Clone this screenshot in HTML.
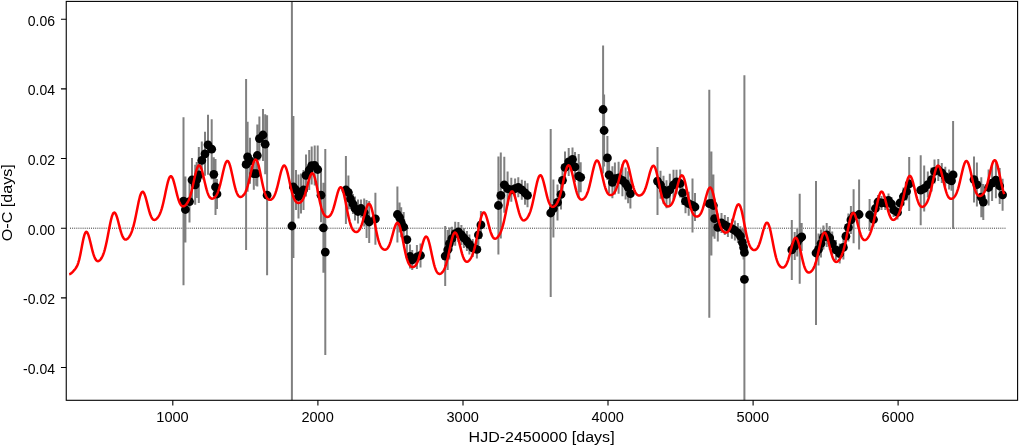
<!DOCTYPE html>
<html><head><meta charset="utf-8"><style>html,body{margin:0;padding:0;background:#fff;overflow:hidden}svg{display:block;will-change:transform}</style></head>
<body><svg width="1019" height="445" viewBox="0 0 1019 445">
<rect width="1019" height="445" fill="#fff"/>
<g>
<line x1="70" y1="228.2" x2="1005.5" y2="228.2" stroke="#000" stroke-width="0.8" stroke-dasharray="1 1.1"/>
<path d="M183.5,117.2V285.2M185.4,176.5V242.5M189.5,180.6V222.6M192.0,158.0V202.0M195.2,164.8V204.8M196.7,162.0V198.0M198.8,147.0V203.0M201.8,141.4V179.4M205.0,131.8V175.8M208.0,114.8V174.8M211.7,119.2V179.2M213.8,157.3V191.3M215.5,159.0V215.0M217.0,179.0V209.0M246.1,78.9V249.9M247.6,121.8V191.8M250.0,137.8V183.8M253.8,157.7V189.7M256.2,161.7V185.7M257.3,124.5V186.5M259.4,116.6V160.6M263.0,109.0V161.0M265.2,114.2V174.2M267.1,115.2V275.2M291.9,1.4V400.3M293.4,116.0V258.0M296.0,170.0V210.0M298.5,174.5V218.5M301.0,173.5V213.5M303.5,170.0V210.0M306.0,154.4V196.4M309.2,150.0V190.0M311.7,146.6V184.6M314.7,145.5V185.5M317.7,145.5V193.5M321.0,168.2V222.2M323.4,182.8V272.8M325.3,149.1V355.1M345.9,156.0V224.0M348.4,175.5V209.5M350.5,189.0V209.0M353.0,194.0V214.0M355.0,196.5V220.5M358.0,199.5V223.5M361.0,199.5V217.5M364.2,198.5V226.5M366.6,200.0V238.0M369.2,201.0V243.0M375.4,192.8V244.8M397.4,186.5V242.5M399.6,202.6V232.6M401.2,207.3V237.3M403.7,212.0V242.0M406.9,225.6V253.6M410.0,244.5V268.5M412.2,250.0V270.0M416.9,245.0V269.0M420.5,243.5V267.5M445.2,226.1V286.1M447.7,229.9V269.9M449.4,227.6V259.6M451.9,226.7V250.7M455.2,221.7V245.7M458.4,221.9V241.9M461.4,224.9V244.9M463.9,227.9V247.9M466.9,231.1V251.1M469.4,234.4V254.4M472.7,238.9V256.9M476.9,240.4V258.4M478.4,224.9V244.9M480.9,210.9V238.9M498.4,156.5V254.5M500.8,152.4V238.4M504.3,156.8V212.8M507.6,171.6V205.6M511.3,177.8V201.8M515.1,178.6V198.6M518.3,177.3V197.3M521.8,179.8V199.8M525.0,180.8V204.8M527.5,183.3V207.3M550.7,129.0V297.0M553.4,179.6V237.6M557.5,184.4V220.4M561.0,179.4V209.4M562.5,165.3V195.3M565.0,151.4V183.4M568.7,147.9V175.9M572.5,147.4V171.4M575.0,151.9V181.9M578.7,154.1V198.1M580.7,162.3V192.3M603.1,45.5V173.5M604.1,94.5V166.5M607.4,135.9V179.9M609.1,156.9V192.9M612.4,166.3V198.3M614.9,162.6V194.6M618.6,161.8V193.8M622.4,164.3V196.3M625.6,167.6V199.6M628.1,171.3V203.3M630.4,178.6V208.6M657.5,147.1V215.1M660.5,170.8V198.8M663.5,175.8V203.8M666.5,180.3V208.3M669.8,173.8V205.8M673.5,169.8V199.8M676.5,169.8V193.8M680.2,169.5V197.5M682.5,181.0V205.0M685.5,189.2V213.2M688.7,191.7V215.7M692.5,178.5V232.5M695.0,193.0V221.0M709.3,89.7V317.7M711.4,151.5V255.5M713.4,174.5V236.5M714.6,198.7V238.7M717.8,213.4V241.4M721.5,213.0V233.0M724.8,215.0V235.0M727.9,216.9V236.9M731.9,218.7V238.7M734.9,220.5V240.5M737.9,223.0V243.0M740.4,226.2V246.2M742.4,228.4V256.4M743.6,235.4V259.4M744.4,240.4V264.4M744.4,75.3V400.3M791.8,219.9V279.9M794.7,232.1V260.1M797.2,228.4V256.4M799.7,193.7V283.7M801.7,222.9V250.9M816.0,181.0V325.0M818.5,233.4V265.4M821.0,229.6V257.6M823.4,225.4V249.4M826.7,222.9V246.9M829.7,225.9V249.9M832.2,231.6V255.6M835.9,239.9V259.9M839.7,243.6V263.6M843.4,235.4V259.4M845.9,224.2V248.2M848.4,213.4V241.4M850.9,205.9V233.9M853.6,189.2V243.2M859.1,179.5V249.5M869.6,199.0V231.0M873.5,212.5V226.5M875.4,201.5V215.5M878.0,195.0V209.0M881.5,196.0V210.0M885.3,196.0V210.0M888.5,193.5V207.5M891.5,197.0V211.0M893.6,203.0V217.0M897.5,205.5V219.5M900.0,195.0V211.0M903.5,187.5V205.5M906.6,182.5V200.5M909.2,157.0V211.0M920.7,155.2V225.2M924.2,165.4V211.4M927.8,171.6V197.6M931.6,167.6V191.6M934.5,159.4V183.4M938.3,159.0V181.0M941.8,162.9V182.9M945.3,166.7V186.7M949.1,169.6V189.6M951.5,170.8V190.8M953.1,120.9V228.9M974.0,156.6V202.6M976.9,162.6V206.6M981.3,177.2V217.2M983.3,184.1V220.1M988.6,169.5V205.5M992.1,165.1V201.1M995.9,162.2V198.2M999.7,168.0V204.0M1002.6,178.8V210.8" stroke="#808080" stroke-width="2" fill="none"/>
<g fill="#000"><circle cx="183.5" cy="201.2" r="4.4"/><circle cx="185.4" cy="209.5" r="4.4"/><circle cx="189.5" cy="201.6" r="4.4"/><circle cx="192.0" cy="180.0" r="4.4"/><circle cx="195.2" cy="184.8" r="4.4"/><circle cx="196.7" cy="180.0" r="4.4"/><circle cx="198.8" cy="175.0" r="4.4"/><circle cx="201.8" cy="160.4" r="4.4"/><circle cx="205.0" cy="153.8" r="4.4"/><circle cx="208.0" cy="144.8" r="4.4"/><circle cx="211.7" cy="149.2" r="4.4"/><circle cx="213.8" cy="174.3" r="4.4"/><circle cx="215.5" cy="187.0" r="4.4"/><circle cx="217.0" cy="194.0" r="4.4"/><circle cx="246.1" cy="164.4" r="4.4"/><circle cx="247.6" cy="156.8" r="4.4"/><circle cx="250.0" cy="160.8" r="4.4"/><circle cx="253.8" cy="173.7" r="4.4"/><circle cx="256.2" cy="173.7" r="4.4"/><circle cx="257.3" cy="155.5" r="4.4"/><circle cx="259.4" cy="138.6" r="4.4"/><circle cx="263.0" cy="135.0" r="4.4"/><circle cx="265.2" cy="144.2" r="4.4"/><circle cx="267.1" cy="195.2" r="4.4"/><circle cx="291.9" cy="226.0" r="4.4"/><circle cx="293.4" cy="187.0" r="4.4"/><circle cx="296.0" cy="190.0" r="4.4"/><circle cx="298.5" cy="196.5" r="4.4"/><circle cx="301.0" cy="193.5" r="4.4"/><circle cx="303.5" cy="190.0" r="4.4"/><circle cx="306.0" cy="175.4" r="4.4"/><circle cx="309.2" cy="170.0" r="4.4"/><circle cx="311.7" cy="165.6" r="4.4"/><circle cx="314.7" cy="165.5" r="4.4"/><circle cx="317.7" cy="169.5" r="4.4"/><circle cx="321.0" cy="195.2" r="4.4"/><circle cx="323.4" cy="227.8" r="4.4"/><circle cx="325.3" cy="252.1" r="4.4"/><circle cx="345.9" cy="190.0" r="4.4"/><circle cx="348.4" cy="192.5" r="4.4"/><circle cx="350.5" cy="199.0" r="4.4"/><circle cx="353.0" cy="204.0" r="4.4"/><circle cx="355.0" cy="208.5" r="4.4"/><circle cx="358.0" cy="211.5" r="4.4"/><circle cx="361.0" cy="208.5" r="4.4"/><circle cx="364.2" cy="212.5" r="4.4"/><circle cx="366.6" cy="219.0" r="4.4"/><circle cx="369.2" cy="222.0" r="4.4"/><circle cx="375.4" cy="218.8" r="4.4"/><circle cx="397.4" cy="214.5" r="4.4"/><circle cx="399.6" cy="217.6" r="4.4"/><circle cx="401.2" cy="222.3" r="4.4"/><circle cx="403.7" cy="227.0" r="4.4"/><circle cx="406.9" cy="239.6" r="4.4"/><circle cx="410.0" cy="256.5" r="4.4"/><circle cx="412.2" cy="260.0" r="4.4"/><circle cx="416.9" cy="257.0" r="4.4"/><circle cx="420.5" cy="255.5" r="4.4"/><circle cx="445.2" cy="256.1" r="4.4"/><circle cx="447.7" cy="249.9" r="4.4"/><circle cx="449.4" cy="243.6" r="4.4"/><circle cx="451.9" cy="238.7" r="4.4"/><circle cx="455.2" cy="233.7" r="4.4"/><circle cx="458.4" cy="231.9" r="4.4"/><circle cx="461.4" cy="234.9" r="4.4"/><circle cx="463.9" cy="237.9" r="4.4"/><circle cx="466.9" cy="241.1" r="4.4"/><circle cx="469.4" cy="244.4" r="4.4"/><circle cx="472.7" cy="247.9" r="4.4"/><circle cx="476.9" cy="249.4" r="4.4"/><circle cx="478.4" cy="234.9" r="4.4"/><circle cx="480.9" cy="224.9" r="4.4"/><circle cx="498.4" cy="205.5" r="4.4"/><circle cx="500.8" cy="195.4" r="4.4"/><circle cx="504.3" cy="184.8" r="4.4"/><circle cx="507.6" cy="188.6" r="4.4"/><circle cx="511.3" cy="189.8" r="4.4"/><circle cx="515.1" cy="188.6" r="4.4"/><circle cx="518.3" cy="187.3" r="4.4"/><circle cx="521.8" cy="189.8" r="4.4"/><circle cx="525.0" cy="192.8" r="4.4"/><circle cx="527.5" cy="195.3" r="4.4"/><circle cx="550.7" cy="213.0" r="4.4"/><circle cx="553.4" cy="208.6" r="4.4"/><circle cx="557.5" cy="202.4" r="4.4"/><circle cx="561.0" cy="194.4" r="4.4"/><circle cx="562.5" cy="180.3" r="4.4"/><circle cx="565.0" cy="167.4" r="4.4"/><circle cx="568.7" cy="161.9" r="4.4"/><circle cx="572.5" cy="159.4" r="4.4"/><circle cx="575.0" cy="166.9" r="4.4"/><circle cx="578.7" cy="176.1" r="4.4"/><circle cx="580.7" cy="177.3" r="4.4"/><circle cx="603.1" cy="109.5" r="4.4"/><circle cx="604.1" cy="130.5" r="4.4"/><circle cx="607.4" cy="157.9" r="4.4"/><circle cx="609.1" cy="174.9" r="4.4"/><circle cx="612.4" cy="182.3" r="4.4"/><circle cx="614.9" cy="178.6" r="4.4"/><circle cx="618.6" cy="177.8" r="4.4"/><circle cx="622.4" cy="180.3" r="4.4"/><circle cx="625.6" cy="183.6" r="4.4"/><circle cx="628.1" cy="187.3" r="4.4"/><circle cx="630.4" cy="193.6" r="4.4"/><circle cx="657.5" cy="181.1" r="4.4"/><circle cx="660.5" cy="184.8" r="4.4"/><circle cx="663.5" cy="189.8" r="4.4"/><circle cx="666.5" cy="194.3" r="4.4"/><circle cx="669.8" cy="189.8" r="4.4"/><circle cx="673.5" cy="184.8" r="4.4"/><circle cx="676.5" cy="181.8" r="4.4"/><circle cx="680.2" cy="183.5" r="4.4"/><circle cx="682.5" cy="193.0" r="4.4"/><circle cx="685.5" cy="201.2" r="4.4"/><circle cx="688.7" cy="203.7" r="4.4"/><circle cx="692.5" cy="205.5" r="4.4"/><circle cx="695.0" cy="207.0" r="4.4"/><circle cx="709.3" cy="203.7" r="4.4"/><circle cx="711.4" cy="203.5" r="4.4"/><circle cx="713.4" cy="205.5" r="4.4"/><circle cx="714.6" cy="218.7" r="4.4"/><circle cx="717.8" cy="227.4" r="4.4"/><circle cx="721.5" cy="223.0" r="4.4"/><circle cx="724.8" cy="225.0" r="4.4"/><circle cx="727.9" cy="226.9" r="4.4"/><circle cx="731.9" cy="228.7" r="4.4"/><circle cx="734.9" cy="230.5" r="4.4"/><circle cx="737.9" cy="233.0" r="4.4"/><circle cx="740.4" cy="236.2" r="4.4"/><circle cx="742.4" cy="242.4" r="4.4"/><circle cx="743.6" cy="247.4" r="4.4"/><circle cx="744.4" cy="252.4" r="4.4"/><circle cx="744.4" cy="279.3" r="4.4"/><circle cx="791.8" cy="249.9" r="4.4"/><circle cx="794.7" cy="246.1" r="4.4"/><circle cx="797.2" cy="242.4" r="4.4"/><circle cx="799.7" cy="238.7" r="4.4"/><circle cx="801.7" cy="236.9" r="4.4"/><circle cx="816.0" cy="253.0" r="4.4"/><circle cx="818.5" cy="249.4" r="4.4"/><circle cx="821.0" cy="243.6" r="4.4"/><circle cx="823.4" cy="237.4" r="4.4"/><circle cx="826.7" cy="234.9" r="4.4"/><circle cx="829.7" cy="237.9" r="4.4"/><circle cx="832.2" cy="243.6" r="4.4"/><circle cx="835.9" cy="249.9" r="4.4"/><circle cx="839.7" cy="253.6" r="4.4"/><circle cx="843.4" cy="247.4" r="4.4"/><circle cx="845.9" cy="236.2" r="4.4"/><circle cx="848.4" cy="227.4" r="4.4"/><circle cx="850.9" cy="219.9" r="4.4"/><circle cx="853.6" cy="216.2" r="4.4"/><circle cx="859.1" cy="214.5" r="4.4"/><circle cx="869.6" cy="215.0" r="4.4"/><circle cx="873.5" cy="219.5" r="4.4"/><circle cx="875.4" cy="208.5" r="4.4"/><circle cx="878.0" cy="202.0" r="4.4"/><circle cx="881.5" cy="203.0" r="4.4"/><circle cx="885.3" cy="203.0" r="4.4"/><circle cx="888.5" cy="200.5" r="4.4"/><circle cx="891.5" cy="204.0" r="4.4"/><circle cx="893.6" cy="210.0" r="4.4"/><circle cx="897.5" cy="212.5" r="4.4"/><circle cx="900.0" cy="203.0" r="4.4"/><circle cx="903.5" cy="196.5" r="4.4"/><circle cx="906.6" cy="191.5" r="4.4"/><circle cx="909.2" cy="184.0" r="4.4"/><circle cx="920.7" cy="190.2" r="4.4"/><circle cx="924.2" cy="188.4" r="4.4"/><circle cx="927.8" cy="184.6" r="4.4"/><circle cx="931.6" cy="179.6" r="4.4"/><circle cx="934.5" cy="171.4" r="4.4"/><circle cx="938.3" cy="170.0" r="4.4"/><circle cx="941.8" cy="172.9" r="4.4"/><circle cx="945.3" cy="176.7" r="4.4"/><circle cx="949.1" cy="179.6" r="4.4"/><circle cx="951.5" cy="180.8" r="4.4"/><circle cx="953.1" cy="174.9" r="4.4"/><circle cx="974.0" cy="179.6" r="4.4"/><circle cx="976.9" cy="184.6" r="4.4"/><circle cx="981.3" cy="197.2" r="4.4"/><circle cx="983.3" cy="202.1" r="4.4"/><circle cx="988.6" cy="187.5" r="4.4"/><circle cx="992.1" cy="183.1" r="4.4"/><circle cx="995.9" cy="180.2" r="4.4"/><circle cx="999.7" cy="186.0" r="4.4"/><circle cx="1002.6" cy="194.8" r="4.4"/></g>
<path d="M69.2,274.34 L69.7,274.20 L70.2,273.96 L70.7,273.63 L71.2,273.24 L71.7,272.80 L72.2,272.32 L72.7,271.81 L73.2,271.28 L73.7,270.73 L74.2,270.16 L74.7,269.57 L75.2,268.95 L75.7,268.29 L76.2,267.55 L76.7,266.69 L77.2,265.67 L77.7,264.48 L78.2,263.08 L78.7,261.47 L79.2,259.63 L79.7,257.55 L80.2,255.25 L80.7,252.75 L81.2,250.13 L81.7,247.45 L82.2,244.78 L82.7,242.21 L83.2,239.80 L83.7,237.61 L84.2,235.71 L84.7,234.14 L85.2,232.95 L85.7,232.18 L86.2,231.84 L86.7,231.93 L87.2,232.41 L87.7,233.26 L88.2,234.44 L88.7,235.89 L89.2,237.58 L89.7,239.45 L90.2,241.45 L90.7,243.52 L91.2,245.62 L91.7,247.69 L92.2,249.70 L92.7,251.60 L93.2,253.37 L93.7,254.98 L94.2,256.41 L94.7,257.66 L95.2,258.71 L95.7,259.57 L96.2,260.23 L96.7,260.71 L97.2,261.02 L97.7,261.17 L98.2,261.16 L98.7,261.01 L99.2,260.75 L99.7,260.36 L100.2,259.87 L100.7,259.27 L101.2,258.55 L101.7,257.73 L102.2,256.78 L102.7,255.70 L103.2,254.47 L103.7,253.10 L104.2,251.56 L104.7,249.86 L105.2,247.99 L105.7,245.95 L106.2,243.76 L106.7,241.42 L107.2,238.96 L107.7,236.41 L108.2,233.79 L108.7,231.14 L109.2,228.52 L109.7,225.95 L110.2,223.48 L110.7,221.18 L111.2,219.07 L111.7,217.20 L112.2,215.61 L112.7,214.33 L113.2,213.38 L113.7,212.78 L114.2,212.55 L114.7,212.67 L115.2,213.14 L115.7,213.93 L116.2,215.01 L116.7,216.36 L117.2,217.92 L117.7,219.66 L118.2,221.52 L118.7,223.45 L119.2,225.42 L119.7,227.37 L120.2,229.25 L120.7,231.04 L121.2,232.70 L121.7,234.20 L122.2,235.53 L122.7,236.67 L123.2,237.62 L123.7,238.37 L124.2,238.94 L124.7,239.32 L125.2,239.54 L125.7,239.60 L126.2,239.52 L126.7,239.31 L127.2,239.00 L127.7,238.58 L128.2,238.06 L128.7,237.46 L129.2,236.77 L129.7,235.98 L130.2,235.10 L130.7,234.11 L131.2,233.00 L131.7,231.76 L132.2,230.37 L132.7,228.84 L133.2,227.16 L133.7,225.31 L134.2,223.31 L134.7,221.17 L135.2,218.89 L135.7,216.49 L136.2,214.01 L136.7,211.48 L137.2,208.93 L137.7,206.41 L138.2,203.95 L138.7,201.61 L139.2,199.43 L139.7,197.45 L140.2,195.72 L140.7,194.27 L141.2,193.13 L141.7,192.32 L142.2,191.86 L142.7,191.75 L143.2,191.99 L143.7,192.56 L144.2,193.45 L144.7,194.63 L145.2,196.06 L145.7,197.69 L146.2,199.49 L146.7,201.40 L147.2,203.38 L147.7,205.38 L148.2,207.36 L148.7,209.27 L149.2,211.08 L149.7,212.75 L150.2,214.27 L150.7,215.61 L151.2,216.77 L151.7,217.73 L152.2,218.51 L152.7,219.10 L153.2,219.52 L153.7,219.78 L154.2,219.90 L154.7,219.88 L155.2,219.74 L155.7,219.50 L156.2,219.16 L156.7,218.73 L157.2,218.22 L157.7,217.63 L158.2,216.94 L158.7,216.16 L159.2,215.27 L159.7,214.26 L160.2,213.13 L160.7,211.85 L161.2,210.43 L161.7,208.85 L162.2,207.11 L162.7,205.22 L163.2,203.19 L163.7,201.03 L164.2,198.76 L164.7,196.40 L165.2,194.00 L165.7,191.59 L166.2,189.21 L166.7,186.91 L167.2,184.72 L167.7,182.70 L168.2,180.90 L168.7,179.33 L169.2,178.06 L169.7,177.09 L170.2,176.46 L170.7,176.17 L171.2,176.23 L171.7,176.64 L172.2,177.37 L172.7,178.42 L173.2,179.73 L173.7,181.29 L174.2,183.05 L174.7,184.96 L175.2,186.97 L175.7,189.04 L176.2,191.12 L176.7,193.17 L177.2,195.14 L177.7,197.00 L178.2,198.73 L178.7,200.29 L179.2,201.67 L179.7,202.87 L180.2,203.88 L180.7,204.70 L181.2,205.33 L181.7,205.80 L182.2,206.10 L182.7,206.27 L183.2,206.30 L183.7,206.22 L184.2,206.03 L184.7,205.76 L185.2,205.39 L185.7,204.95 L186.2,204.41 L186.7,203.79 L187.2,203.07 L187.7,202.25 L188.2,201.30 L188.7,200.23 L189.2,199.01 L189.7,197.65 L190.2,196.13 L190.7,194.45 L191.2,192.63 L191.7,190.66 L192.2,188.57 L192.7,186.37 L193.2,184.10 L193.7,181.79 L194.2,179.47 L194.7,177.19 L195.2,175.00 L195.7,172.93 L196.2,171.04 L196.7,169.36 L197.2,167.94 L197.7,166.81 L198.2,165.99 L198.7,165.51 L199.2,165.38 L199.7,165.60 L200.2,166.16 L200.7,167.05 L201.2,168.25 L201.7,169.72 L202.2,171.42 L202.7,173.32 L203.2,175.37 L203.7,177.51 L204.2,179.71 L204.7,181.91 L205.2,184.07 L205.7,186.15 L206.2,188.12 L206.7,189.95 L207.2,191.62 L207.7,193.11 L208.2,194.41 L208.7,195.52 L209.2,196.45 L209.7,197.19 L210.2,197.77 L210.7,198.20 L211.2,198.48 L211.7,198.64 L212.2,198.68 L212.7,198.63 L213.2,198.48 L213.7,198.24 L214.2,197.92 L214.7,197.50 L215.2,196.99 L215.7,196.38 L216.2,195.65 L216.7,194.79 L217.2,193.79 L217.7,192.65 L218.2,191.35 L218.7,189.89 L219.2,188.28 L219.7,186.51 L220.2,184.60 L220.7,182.56 L221.2,180.42 L221.7,178.21 L222.2,175.97 L222.7,173.73 L223.2,171.54 L223.7,169.44 L224.2,167.48 L224.7,165.70 L225.2,164.15 L225.7,162.86 L226.2,161.88 L226.7,161.22 L227.2,160.91 L227.7,160.95 L228.2,161.35 L228.7,162.10 L229.2,163.18 L229.7,164.57 L230.2,166.23 L230.7,168.12 L231.2,170.20 L231.7,172.41 L232.2,174.72 L232.7,177.07 L233.2,179.42 L233.7,181.71 L234.2,183.92 L234.7,186.00 L235.2,187.93 L235.7,189.69 L236.2,191.25 L236.7,192.62 L237.2,193.78 L237.7,194.74 L238.2,195.51 L238.7,196.10 L239.2,196.52 L239.7,196.79 L240.2,196.92 L240.7,196.94 L241.2,196.84 L241.7,196.64 L242.2,196.35 L242.7,195.97 L243.2,195.49 L243.7,194.92 L244.2,194.25 L244.7,193.46 L245.2,192.55 L245.7,191.50 L246.2,190.31 L246.7,188.97 L247.2,187.48 L247.7,185.83 L248.2,184.03 L248.7,182.11 L249.2,180.07 L249.7,177.93 L250.2,175.74 L250.7,173.53 L251.2,171.33 L251.7,169.20 L252.2,167.17 L252.7,165.30 L253.2,163.62 L253.7,162.19 L254.2,161.04 L254.7,160.20 L255.2,159.70 L255.7,159.55 L256.2,159.77 L256.7,160.34 L257.2,161.26 L257.7,162.52 L258.2,164.07 L258.7,165.89 L259.2,167.94 L259.7,170.17 L260.2,172.54 L260.7,174.99 L261.2,177.49 L261.7,179.97 L262.2,182.40 L262.7,184.74 L263.2,186.95 L263.7,189.01 L264.2,190.90 L264.7,192.60 L265.2,194.10 L265.7,195.41 L266.2,196.52 L266.7,197.45 L267.2,198.21 L267.7,198.80 L268.2,199.25 L268.7,199.56 L269.2,199.75 L269.7,199.84 L270.2,199.83 L270.7,199.72 L271.2,199.52 L271.7,199.23 L272.2,198.84 L272.7,198.33 L273.2,197.71 L273.7,196.95 L274.2,196.06 L274.7,195.01 L275.2,193.80 L275.7,192.44 L276.2,190.91 L276.7,189.23 L277.2,187.40 L277.7,185.46 L278.2,183.42 L278.7,181.32 L279.2,179.18 L279.7,177.06 L280.2,174.99 L280.7,173.02 L281.2,171.20 L281.7,169.57 L282.2,168.17 L282.7,167.04 L283.2,166.21 L283.7,165.71 L284.2,165.54 L284.7,165.73 L285.2,166.25 L285.7,167.12 L286.2,168.30 L286.7,169.77 L287.2,171.49 L287.7,173.43 L288.2,175.54 L288.7,177.77 L289.2,180.08 L289.7,182.42 L290.2,184.74 L290.7,187.01 L291.2,189.19 L291.7,191.23 L292.2,193.13 L292.7,194.86 L293.2,196.41 L293.7,197.78 L294.2,198.95 L294.7,199.95 L295.2,200.78 L295.7,201.45 L296.2,201.98 L296.7,202.38 L297.2,202.66 L297.7,202.85 L298.2,202.94 L298.7,202.95 L299.2,202.88 L299.7,202.73 L300.2,202.50 L300.7,202.17 L301.2,201.75 L301.7,201.21 L302.2,200.55 L302.7,199.76 L303.2,198.82 L303.7,197.74 L304.2,196.50 L304.7,195.11 L305.2,193.58 L305.7,191.91 L306.2,190.14 L306.7,188.28 L307.2,186.37 L307.7,184.44 L308.2,182.53 L308.7,180.69 L309.2,178.97 L309.7,177.40 L310.2,176.03 L310.7,174.91 L311.2,174.06 L311.7,173.52 L312.2,173.31 L312.7,173.45 L313.2,173.94 L313.7,174.77 L314.2,175.94 L314.7,177.43 L315.2,179.20 L315.7,181.21 L316.2,183.44 L316.7,185.83 L317.2,188.33 L317.7,190.91 L318.2,193.50 L318.7,196.06 L319.2,198.56 L319.7,200.96 L320.2,203.22 L320.7,205.32 L321.2,207.24 L321.7,208.97 L322.2,210.51 L322.7,211.86 L323.2,213.02 L323.7,214.00 L324.2,214.81 L324.7,215.47 L325.2,215.99 L325.7,216.39 L326.2,216.68 L326.7,216.86 L327.2,216.95 L327.7,216.94 L328.2,216.84 L328.7,216.65 L329.2,216.35 L329.7,215.94 L330.2,215.41 L330.7,214.75 L331.2,213.95 L331.7,212.99 L332.2,211.88 L332.7,210.60 L333.2,209.18 L333.7,207.60 L334.2,205.89 L334.7,204.07 L335.2,202.17 L335.7,200.22 L336.2,198.26 L336.7,196.32 L337.2,194.46 L337.7,192.72 L338.2,191.15 L338.7,189.78 L339.2,188.67 L339.7,187.84 L340.2,187.33 L340.7,187.15 L341.2,187.32 L341.7,187.85 L342.2,188.73 L342.7,189.95 L343.2,191.49 L343.7,193.30 L344.2,195.37 L344.7,197.64 L345.2,200.07 L345.7,202.61 L346.2,205.21 L346.7,207.84 L347.2,210.43 L347.7,212.95 L348.2,215.37 L348.7,217.65 L349.2,219.77 L349.7,221.72 L350.2,223.48 L350.7,225.04 L351.2,226.41 L351.7,227.60 L352.2,228.62 L352.7,229.47 L353.2,230.18 L353.7,230.75 L354.2,231.20 L354.7,231.54 L355.2,231.78 L355.7,231.92 L356.2,231.97 L356.7,231.93 L357.2,231.79 L357.7,231.54 L358.2,231.18 L358.7,230.70 L359.2,230.08 L359.7,229.31 L360.2,228.39 L360.7,227.32 L361.2,226.08 L361.7,224.69 L362.2,223.16 L362.7,221.49 L363.2,219.72 L363.7,217.87 L364.2,215.98 L364.7,214.08 L365.2,212.21 L365.7,210.43 L366.2,208.78 L366.7,207.30 L367.2,206.03 L367.7,205.02 L368.2,204.31 L368.7,203.91 L369.2,203.85 L369.7,204.14 L370.2,204.79 L370.7,205.78 L371.2,207.10 L371.7,208.73 L372.2,210.64 L372.7,212.78 L373.2,215.12 L373.7,217.61 L374.2,220.20 L374.7,222.84 L375.2,225.50 L375.7,228.11 L376.2,230.65 L376.7,233.07 L377.2,235.36 L377.7,237.48 L378.2,239.42 L378.7,241.17 L379.2,242.72 L379.7,244.09 L380.2,245.27 L380.7,246.28 L381.2,247.14 L381.7,247.84 L382.2,248.41 L382.7,248.87 L383.2,249.22 L383.7,249.47 L384.2,249.63 L384.7,249.70 L385.2,249.68 L385.7,249.57 L386.2,249.36 L386.7,249.03 L387.2,248.58 L387.7,248.00 L388.2,247.27 L388.7,246.39 L389.2,245.35 L389.7,244.16 L390.2,242.80 L390.7,241.31 L391.2,239.69 L391.7,237.96 L392.2,236.16 L392.7,234.32 L393.2,232.47 L393.7,230.67 L394.2,228.95 L394.7,227.36 L395.2,225.95 L395.7,224.75 L396.2,223.81 L396.7,223.16 L397.2,222.83 L397.7,222.83 L398.2,223.18 L398.7,223.88 L399.2,224.91 L399.7,226.27 L400.2,227.93 L400.7,229.85 L401.2,232.00 L401.7,234.34 L402.2,236.81 L402.7,239.38 L403.2,241.99 L403.7,244.59 L404.2,247.15 L404.7,249.62 L405.2,251.97 L405.7,254.17 L406.2,256.20 L406.7,258.05 L407.2,259.70 L407.7,261.16 L408.2,262.42 L408.7,263.51 L409.2,264.42 L409.7,265.16 L410.2,265.77 L410.7,266.24 L411.2,266.59 L411.7,266.84 L412.2,266.99 L412.7,267.04 L413.2,267.01 L413.7,266.88 L414.2,266.65 L414.7,266.31 L415.2,265.86 L415.7,265.28 L416.2,264.56 L416.7,263.69 L417.2,262.67 L417.7,261.48 L418.2,260.13 L418.7,258.63 L419.2,256.98 L419.7,255.20 L420.2,253.32 L420.7,251.37 L421.2,249.38 L421.7,247.39 L422.2,245.44 L422.7,243.58 L423.2,241.85 L423.7,240.31 L424.2,238.98 L424.7,237.92 L425.2,237.15 L425.7,236.69 L426.2,236.57 L426.7,236.79 L427.2,237.36 L427.7,238.26 L428.2,239.48 L428.7,240.99 L429.2,242.75 L429.7,244.73 L430.2,246.89 L430.7,249.17 L431.2,251.53 L431.7,253.93 L432.2,256.30 L432.7,258.62 L433.2,260.84 L433.7,262.93 L434.2,264.87 L434.7,266.62 L435.2,268.18 L435.7,269.55 L436.2,270.71 L436.7,271.67 L437.2,272.45 L437.7,273.04 L438.2,273.47 L438.7,273.76 L439.2,273.90 L439.7,273.92 L440.2,273.83 L440.7,273.64 L441.2,273.34 L441.7,272.95 L442.2,272.45 L442.7,271.86 L443.2,271.14 L443.7,270.31 L444.2,269.34 L444.7,268.22 L445.2,266.95 L445.7,265.52 L446.2,263.93 L446.7,262.17 L447.2,260.25 L447.7,258.19 L448.2,256.00 L448.7,253.72 L449.2,251.36 L449.7,248.97 L450.2,246.59 L450.7,244.26 L451.2,242.03 L451.7,239.93 L452.2,238.03 L452.7,236.35 L453.2,234.94 L453.7,233.83 L454.2,233.05 L454.7,232.60 L455.2,232.50 L455.7,232.75 L456.2,233.34 L456.7,234.25 L457.2,235.44 L457.7,236.89 L458.2,238.56 L458.7,240.39 L459.2,242.35 L459.7,244.39 L460.2,246.45 L460.7,248.50 L461.2,250.48 L461.7,252.37 L462.2,254.12 L462.7,255.71 L463.2,257.13 L463.7,258.36 L464.2,259.39 L464.7,260.23 L465.2,260.87 L465.7,261.32 L466.2,261.60 L466.7,261.73 L467.2,261.71 L467.7,261.55 L468.2,261.28 L468.7,260.90 L469.2,260.42 L469.7,259.84 L470.2,259.16 L470.7,258.38 L471.2,257.50 L471.7,256.51 L472.2,255.39 L472.7,254.14 L473.2,252.74 L473.7,251.19 L474.2,249.48 L474.7,247.61 L475.2,245.58 L475.7,243.39 L476.2,241.06 L476.7,238.62 L477.2,236.08 L477.7,233.48 L478.2,230.86 L478.7,228.25 L479.2,225.70 L479.7,223.26 L480.2,220.97 L480.7,218.88 L481.2,217.03 L481.7,215.45 L482.2,214.18 L482.7,213.24 L483.2,212.64 L483.7,212.40 L484.2,212.51 L484.7,212.96 L485.2,213.73 L485.7,214.79 L486.2,216.11 L486.7,217.64 L487.2,219.34 L487.7,221.16 L488.2,223.06 L488.7,224.99 L489.2,226.90 L489.7,228.74 L490.2,230.49 L490.7,232.11 L491.2,233.57 L491.7,234.86 L492.2,235.96 L492.7,236.87 L493.2,237.59 L493.7,238.13 L494.2,238.48 L494.7,238.67 L495.2,238.71 L495.7,238.62 L496.2,238.40 L496.7,238.07 L497.2,237.64 L497.7,237.11 L498.2,236.50 L498.7,235.80 L499.2,235.01 L499.7,234.13 L500.2,233.13 L500.7,232.02 L501.2,230.78 L501.7,229.40 L502.2,227.88 L502.7,226.20 L503.2,224.36 L503.7,222.37 L504.2,220.24 L504.7,217.97 L505.2,215.60 L505.7,213.14 L506.2,210.63 L506.7,208.11 L507.2,205.61 L507.7,203.19 L508.2,200.88 L508.7,198.74 L509.2,196.80 L509.7,195.11 L510.2,193.70 L510.7,192.61 L511.2,191.85 L511.7,191.45 L512.2,191.39 L512.7,191.69 L513.2,192.33 L513.7,193.28 L514.2,194.51 L514.7,196.00 L515.2,197.69 L515.7,199.54 L516.2,201.50 L516.7,203.53 L517.2,205.58 L517.7,207.60 L518.2,209.56 L518.7,211.40 L519.2,213.11 L519.7,214.66 L520.2,216.03 L520.7,217.21 L521.2,218.20 L521.7,219.00 L522.2,219.60 L522.7,220.03 L523.2,220.29 L523.7,220.40 L524.2,220.38 L524.7,220.23 L525.2,219.96 L525.7,219.60 L526.2,219.14 L526.7,218.59 L527.2,217.95 L527.7,217.21 L528.2,216.38 L528.7,215.43 L529.2,214.36 L529.7,213.17 L530.2,211.83 L530.7,210.34 L531.2,208.69 L531.7,206.89 L532.2,204.93 L532.7,202.83 L533.2,200.60 L533.7,198.27 L534.2,195.85 L534.7,193.39 L535.2,190.93 L535.7,188.49 L536.2,186.14 L536.7,183.91 L537.2,181.86 L537.7,180.01 L538.2,178.43 L538.7,177.13 L539.2,176.15 L539.7,175.51 L540.2,175.23 L540.7,175.30 L541.2,175.73 L541.7,176.49 L542.2,177.57 L542.7,178.93 L543.2,180.54 L543.7,182.36 L544.2,184.33 L544.7,186.41 L545.2,188.55 L545.7,190.71 L546.2,192.83 L546.7,194.88 L547.2,196.83 L547.7,198.63 L548.2,200.27 L548.7,201.74 L549.2,203.01 L549.7,204.10 L550.2,204.99 L550.7,205.69 L551.2,206.22 L551.7,206.59 L552.2,206.81 L552.7,206.89 L553.2,206.85 L553.7,206.70 L554.2,206.44 L554.7,206.09 L555.2,205.65 L555.7,205.12 L556.2,204.48 L556.7,203.75 L557.2,202.90 L557.7,201.93 L558.2,200.82 L558.7,199.57 L559.2,198.17 L559.7,196.61 L560.2,194.89 L560.7,193.02 L561.2,191.00 L561.7,188.86 L562.2,186.62 L562.7,184.30 L563.2,181.94 L563.7,179.58 L564.2,177.26 L564.7,175.03 L565.2,172.93 L565.7,171.01 L566.2,169.30 L566.7,167.87 L567.2,166.72 L567.7,165.90 L568.2,165.42 L568.7,165.30 L569.2,165.54 L569.7,166.12 L570.2,167.05 L570.7,168.28 L571.2,169.79 L571.7,171.54 L572.2,173.48 L572.7,175.58 L573.2,177.78 L573.7,180.03 L574.2,182.28 L574.7,184.50 L575.2,186.64 L575.7,188.67 L576.2,190.55 L576.7,192.27 L577.2,193.81 L577.7,195.16 L578.2,196.32 L578.7,197.29 L579.2,198.07 L579.7,198.68 L580.2,199.13 L580.7,199.43 L581.2,199.61 L581.7,199.66 L582.2,199.60 L582.7,199.44 L583.2,199.19 L583.7,198.84 L584.2,198.40 L584.7,197.86 L585.2,197.21 L585.7,196.45 L586.2,195.56 L586.7,194.53 L587.2,193.35 L587.7,192.02 L588.2,190.53 L588.7,188.87 L589.2,187.07 L589.7,185.11 L590.2,183.03 L590.7,180.85 L591.2,178.60 L591.7,176.30 L592.2,174.01 L592.7,171.76 L593.2,169.60 L593.7,167.58 L594.2,165.73 L594.7,164.11 L595.2,162.75 L595.7,161.68 L596.2,160.93 L596.7,160.52 L597.2,160.47 L597.7,160.76 L598.2,161.40 L598.7,162.37 L599.2,163.64 L599.7,165.18 L600.2,166.95 L600.7,168.90 L601.2,171.00 L601.7,173.19 L602.2,175.43 L602.7,177.67 L603.2,179.86 L603.7,181.98 L604.2,183.97 L604.7,185.83 L605.2,187.52 L605.7,189.04 L606.2,190.37 L606.7,191.51 L607.2,192.48 L607.7,193.26 L608.2,193.89 L608.7,194.37 L609.2,194.71 L609.7,194.93 L610.2,195.05 L610.7,195.07 L611.2,195.00 L611.7,194.85 L612.2,194.61 L612.7,194.30 L613.2,193.89 L613.7,193.37 L614.2,192.75 L614.7,192.01 L615.2,191.13 L615.7,190.10 L616.2,188.92 L616.7,187.59 L617.2,186.09 L617.7,184.45 L618.2,182.66 L618.7,180.75 L619.2,178.74 L619.7,176.65 L620.2,174.53 L620.7,172.42 L621.2,170.35 L621.7,168.37 L622.2,166.53 L622.7,164.86 L623.2,163.42 L623.7,162.23 L624.2,161.34 L624.7,160.75 L625.2,160.50 L625.7,160.59 L626.2,161.01 L626.7,161.77 L627.2,162.83 L627.7,164.19 L628.2,165.80 L628.7,167.62 L629.2,169.62 L629.7,171.74 L630.2,173.95 L630.7,176.19 L631.2,178.42 L631.7,180.59 L632.2,182.68 L632.7,184.64 L633.2,186.46 L633.7,188.11 L634.2,189.59 L634.7,190.88 L635.2,191.99 L635.7,192.92 L636.2,193.68 L636.7,194.29 L637.2,194.75 L637.7,195.09 L638.2,195.32 L638.7,195.46 L639.2,195.51 L639.7,195.48 L640.2,195.38 L640.7,195.21 L641.2,194.96 L641.7,194.63 L642.2,194.21 L642.7,193.68 L643.2,193.04 L643.7,192.26 L644.2,191.35 L644.7,190.30 L645.2,189.09 L645.7,187.73 L646.2,186.23 L646.7,184.60 L647.2,182.85 L647.7,181.01 L648.2,179.12 L648.7,177.19 L649.2,175.29 L649.7,173.44 L650.2,171.70 L650.7,170.10 L651.2,168.69 L651.7,167.52 L652.2,166.61 L652.7,166.00 L653.2,165.71 L653.7,165.75 L654.2,166.14 L654.7,166.86 L655.2,167.92 L655.7,169.29 L656.2,170.94 L656.7,172.84 L657.2,174.94 L657.7,177.21 L658.2,179.60 L658.7,182.06 L659.2,184.54 L659.7,187.00 L660.2,189.40 L660.7,191.69 L661.2,193.86 L661.7,195.86 L662.2,197.69 L662.7,199.33 L663.2,200.78 L663.7,202.04 L664.2,203.11 L664.7,204.00 L665.2,204.73 L665.7,205.30 L666.2,205.74 L666.7,206.06 L667.2,206.27 L667.7,206.38 L668.2,206.40 L668.7,206.33 L669.2,206.18 L669.7,205.94 L670.2,205.60 L670.7,205.15 L671.2,204.59 L671.7,203.90 L672.2,203.07 L672.7,202.09 L673.2,200.96 L673.7,199.68 L674.2,198.23 L674.7,196.64 L675.2,194.92 L675.7,193.08 L676.2,191.15 L676.7,189.17 L677.2,187.17 L677.7,185.19 L678.2,183.27 L678.7,181.47 L679.2,179.82 L679.7,178.37 L680.2,177.17 L680.7,176.24 L681.2,175.61 L681.7,175.32 L682.2,175.37 L682.7,175.77 L683.2,176.51 L683.7,177.59 L684.2,178.98 L684.7,180.65 L685.2,182.57 L685.7,184.70 L686.2,187.00 L686.7,189.40 L687.2,191.88 L687.7,194.37 L688.2,196.84 L688.7,199.25 L689.2,201.55 L689.7,203.72 L690.2,205.73 L690.7,207.57 L691.2,209.22 L691.7,210.68 L692.2,211.95 L692.7,213.03 L693.2,213.95 L693.7,214.70 L694.2,215.30 L694.7,215.77 L695.2,216.13 L695.7,216.37 L696.2,216.52 L696.7,216.58 L697.2,216.56 L697.7,216.44 L698.2,216.24 L698.7,215.94 L699.2,215.53 L699.7,215.00 L700.2,214.35 L700.7,213.56 L701.2,212.62 L701.7,211.53 L702.2,210.28 L702.7,208.88 L703.2,207.33 L703.7,205.66 L704.2,203.87 L704.7,202.01 L705.2,200.10 L705.7,198.18 L706.2,196.29 L706.7,194.47 L707.2,192.78 L707.7,191.25 L708.2,189.94 L708.7,188.87 L709.2,188.09 L709.7,187.63 L710.2,187.50 L710.7,187.72 L711.2,188.30 L711.7,189.22 L712.2,190.48 L712.7,192.05 L713.2,193.90 L713.7,195.99 L714.2,198.29 L714.7,200.75 L715.2,203.31 L715.7,205.93 L716.2,208.57 L716.7,211.18 L717.2,213.71 L717.7,216.14 L718.2,218.43 L718.7,220.55 L719.2,222.50 L719.7,224.25 L720.2,225.82 L720.7,227.19 L721.2,228.37 L721.7,229.38 L722.2,230.23 L722.7,230.92 L723.2,231.48 L723.7,231.92 L724.2,232.25 L724.7,232.47 L725.2,232.60 L725.7,232.64 L726.2,232.59 L726.7,232.44 L727.2,232.18 L727.7,231.81 L728.2,231.32 L728.7,230.70 L729.2,229.93 L729.7,229.01 L730.2,227.93 L730.7,226.69 L731.2,225.29 L731.7,223.75 L732.2,222.08 L732.7,220.31 L733.2,218.45 L733.7,216.55 L734.2,214.65 L734.7,212.78 L735.2,210.99 L735.7,209.32 L736.2,207.83 L736.7,206.55 L737.2,205.53 L737.7,204.80 L738.2,204.38 L738.7,204.31 L739.2,204.58 L739.7,205.21 L740.2,206.19 L740.7,207.50 L741.2,209.12 L741.7,211.01 L742.2,213.15 L742.7,215.48 L743.2,217.96 L743.7,220.54 L744.2,223.18 L744.7,225.83 L745.2,228.44 L745.7,230.98 L746.2,233.40 L746.7,235.69 L747.2,237.81 L747.7,239.75 L748.2,241.50 L748.7,243.06 L749.2,244.43 L749.7,245.61 L750.2,246.63 L750.7,247.48 L751.2,248.19 L751.7,248.77 L752.2,249.23 L752.7,249.59 L753.2,249.84 L753.7,250.01 L754.2,250.08 L754.7,250.06 L755.2,249.94 L755.7,249.72 L756.2,249.38 L756.7,248.92 L757.2,248.32 L757.7,247.57 L758.2,246.67 L758.7,245.62 L759.2,244.40 L759.7,243.03 L760.2,241.51 L760.7,239.86 L761.2,238.11 L761.7,236.29 L762.2,234.42 L762.7,232.55 L763.2,230.72 L763.7,228.98 L764.2,227.36 L764.7,225.93 L765.2,224.71 L765.7,223.75 L766.2,223.08 L766.7,222.72 L767.2,222.71 L767.7,223.04 L768.2,223.73 L768.7,224.75 L769.2,226.10 L769.7,227.75 L770.2,229.67 L770.7,231.82 L771.2,234.16 L771.7,236.63 L772.2,239.20 L772.7,241.82 L773.2,244.43 L773.7,247.00 L774.2,249.49 L774.7,251.85 L775.2,254.08 L775.7,256.13 L776.2,258.00 L776.7,259.68 L777.2,261.17 L777.7,262.47 L778.2,263.59 L778.7,264.54 L779.2,265.33 L779.7,265.98 L780.2,266.50 L780.7,266.90 L781.2,267.21 L781.7,267.41 L782.2,267.53 L782.7,267.55 L783.2,267.48 L783.7,267.32 L784.2,267.05 L784.7,266.66 L785.2,266.14 L785.7,265.48 L786.2,264.67 L786.7,263.70 L787.2,262.56 L787.7,261.27 L788.2,259.81 L788.7,258.20 L789.2,256.47 L789.7,254.62 L790.2,252.70 L790.7,250.73 L791.2,248.76 L791.7,246.83 L792.2,244.97 L792.7,243.25 L793.2,241.69 L793.7,240.35 L794.2,239.26 L794.7,238.46 L795.2,237.96 L795.7,237.78 L796.2,237.94 L796.7,238.44 L797.2,239.26 L797.7,240.39 L798.2,241.80 L798.7,243.47 L799.2,245.35 L799.7,247.39 L800.2,249.56 L800.7,251.81 L801.2,254.08 L801.7,256.34 L802.2,258.54 L802.7,260.64 L803.2,262.61 L803.7,264.42 L804.2,266.06 L804.7,267.51 L805.2,268.77 L805.7,269.82 L806.2,270.69 L806.7,271.37 L807.2,271.88 L807.7,272.24 L808.2,272.45 L808.7,272.54 L809.2,272.52 L809.7,272.39 L810.2,272.17 L810.7,271.86 L811.2,271.46 L811.7,270.97 L812.2,270.39 L812.7,269.69 L813.2,268.89 L813.7,267.95 L814.2,266.88 L814.7,265.66 L815.2,264.28 L815.7,262.74 L816.2,261.05 L816.7,259.20 L817.2,257.20 L817.7,255.09 L818.2,252.88 L818.7,250.60 L819.2,248.29 L819.7,245.98 L820.2,243.73 L820.7,241.58 L821.2,239.56 L821.7,237.73 L822.2,236.13 L822.7,234.79 L823.2,233.75 L823.7,233.02 L824.2,232.64 L824.7,232.59 L825.2,232.89 L825.7,233.53 L826.2,234.47 L826.7,235.70 L827.2,237.18 L827.7,238.87 L828.2,240.73 L828.7,242.70 L829.2,244.75 L829.7,246.82 L830.2,248.87 L830.7,250.86 L831.2,252.74 L831.7,254.49 L832.2,256.08 L832.7,257.49 L833.2,258.70 L833.7,259.71 L834.2,260.53 L834.7,261.15 L835.2,261.58 L835.7,261.84 L836.2,261.93 L836.7,261.88 L837.2,261.70 L837.7,261.40 L838.2,260.99 L838.7,260.48 L839.2,259.87 L839.7,259.17 L840.2,258.37 L840.7,257.47 L841.2,256.46 L841.7,255.33 L842.2,254.07 L842.7,252.66 L843.2,251.11 L843.7,249.40 L844.2,247.52 L844.7,245.49 L845.2,243.31 L845.7,240.99 L846.2,238.56 L846.7,236.04 L847.2,233.45 L847.7,230.85 L848.2,228.26 L848.7,225.74 L849.2,223.33 L849.7,221.08 L850.2,219.02 L850.7,217.21 L851.2,215.68 L851.7,214.45 L852.2,213.56 L852.7,213.02 L853.2,212.83 L853.7,213.00 L854.2,213.51 L854.7,214.33 L855.2,215.45 L855.7,216.82 L856.2,218.41 L856.7,220.16 L857.2,222.04 L857.7,223.99 L858.2,225.96 L858.7,227.91 L859.2,229.80 L859.7,231.59 L860.2,233.25 L860.7,234.75 L861.2,236.08 L861.7,237.22 L862.2,238.16 L862.7,238.91 L863.2,239.47 L863.7,239.86 L864.2,240.07 L864.7,240.13 L865.2,240.05 L865.7,239.85 L866.2,239.53 L866.7,239.10 L867.2,238.58 L867.7,237.97 L868.2,237.26 L868.7,236.46 L869.2,235.55 L869.7,234.54 L870.2,233.40 L870.7,232.13 L871.2,230.72 L871.7,229.16 L872.2,227.44 L872.7,225.56 L873.2,223.53 L873.7,221.35 L874.2,219.03 L874.7,216.60 L875.2,214.09 L875.7,211.53 L876.2,208.95 L876.7,206.40 L877.2,203.91 L877.7,201.55 L878.2,199.35 L878.7,197.35 L879.2,195.60 L879.7,194.14 L880.2,192.99 L880.7,192.17 L881.2,191.71 L881.7,191.60 L882.2,191.84 L882.7,192.43 L883.2,193.32 L883.7,194.51 L884.2,195.95 L884.7,197.59 L885.2,199.40 L885.7,201.32 L886.2,203.32 L886.7,205.33 L887.2,207.31 L887.7,209.23 L888.2,211.05 L888.7,212.73 L889.2,214.25 L889.7,215.60 L890.2,216.76 L890.7,217.73 L891.2,218.51 L891.7,219.11 L892.2,219.53 L892.7,219.79 L893.2,219.89 L893.7,219.87 L894.2,219.72 L894.7,219.47 L895.2,219.12 L895.7,218.68 L896.2,218.16 L896.7,217.54 L897.2,216.84 L897.7,216.04 L898.2,215.13 L898.7,214.10 L899.2,212.95 L899.7,211.65 L900.2,210.21 L900.7,208.61 L901.2,206.85 L901.7,204.95 L902.2,202.89 L902.7,200.72 L903.2,198.43 L903.7,196.07 L904.2,193.66 L904.7,191.24 L905.2,188.86 L905.7,186.55 L906.2,184.37 L906.7,182.36 L907.2,180.56 L907.7,179.01 L908.2,177.75 L908.7,176.81 L909.2,176.20 L909.7,175.94 L910.2,176.04 L910.7,176.48 L911.2,177.25 L911.7,178.33 L912.2,179.69 L912.7,181.29 L913.2,183.09 L913.7,185.04 L914.2,187.09 L914.7,189.21 L915.2,191.33 L915.7,193.42 L916.2,195.43 L916.7,197.33 L917.2,199.09 L917.7,200.69 L918.2,202.11 L918.7,203.34 L919.2,204.37 L919.7,205.22 L920.2,205.88 L920.7,206.36 L921.2,206.69 L921.7,206.87 L922.2,206.91 L922.7,206.84 L923.2,206.66 L923.7,206.39 L924.2,206.02 L924.7,205.57 L925.2,205.03 L925.7,204.40 L926.2,203.67 L926.7,202.83 L927.2,201.87 L927.7,200.78 L928.2,199.55 L928.7,198.16 L929.2,196.63 L929.7,194.93 L930.2,193.08 L930.7,191.09 L931.2,188.98 L931.7,186.76 L932.2,184.46 L932.7,182.13 L933.2,179.79 L933.7,177.49 L934.2,175.28 L934.7,173.20 L935.2,171.29 L935.7,169.61 L936.2,168.18 L936.7,167.04 L937.2,166.22 L937.7,165.73 L938.2,165.60 L938.7,165.82 L939.2,166.39 L939.7,167.28 L940.2,168.49 L940.7,169.96 L941.2,171.67 L941.7,173.57 L942.2,175.62 L942.7,177.77 L943.2,179.97 L943.7,182.17 L944.2,184.33 L944.7,186.42 L945.2,188.39 L945.7,190.22 L946.2,191.88 L946.7,193.37 L947.2,194.66 L947.7,195.77 L948.2,196.69 L948.7,197.43 L949.2,197.99 L949.7,198.41 L950.2,198.68 L950.7,198.82 L951.2,198.85 L951.7,198.78 L952.2,198.61 L952.7,198.35 L953.2,198.01 L953.7,197.57 L954.2,197.04 L954.7,196.42 L955.2,195.68 L955.7,194.81 L956.2,193.82 L956.7,192.67 L957.2,191.38 L957.7,189.93 L958.2,188.33 L958.7,186.57 L959.2,184.67 L959.7,182.65 L960.2,180.52 L960.7,178.33 L961.2,176.10 L961.7,173.87 L962.2,171.69 L962.7,169.60 L963.2,167.65 L963.7,165.87 L964.2,164.32 L964.7,163.04 L965.2,162.04 L965.7,161.37 L966.2,161.04 L966.7,161.05 L967.2,161.42 L967.7,162.13 L968.2,163.16 L968.7,164.49 L969.2,166.09 L969.7,167.91 L970.2,169.92 L970.7,172.07 L971.2,174.31 L971.7,176.58 L972.2,178.86 L972.7,181.08 L973.2,183.22 L973.7,185.24 L974.2,187.11 L974.7,188.82 L975.2,190.34 L975.7,191.67 L976.2,192.80 L976.7,193.75 L977.2,194.52 L977.7,195.12 L978.2,195.56 L978.7,195.87 L979.2,196.04 L979.7,196.10 L980.2,196.06 L980.7,195.93 L981.2,195.70 L981.7,195.39 L982.2,194.98 L982.7,194.49 L983.2,193.89 L983.7,193.17 L984.2,192.34 L984.7,191.36 L985.2,190.25 L985.7,188.98 L986.2,187.55 L986.7,185.98 L987.2,184.25 L987.7,182.39 L988.2,180.41 L988.7,178.33 L989.2,176.20 L989.7,174.03 L990.2,171.88 L990.7,169.78 L991.2,167.79 L991.7,165.94 L992.2,164.29 L992.7,162.87 L993.2,161.72 L993.7,160.88 L994.2,160.37 L994.7,160.20 L995.2,160.39 L995.7,160.93 L996.2,161.82 L996.7,163.04 L997.2,164.56 L997.7,166.34 L998.2,168.35 L998.7,170.54 L999.2,172.86 L999.7,175.27 L1000.2,177.73 L1000.7,180.17 L1001.2,182.57 L1001.7,184.88 L1002.2,187.07 L1002.7,189.11 L1003.2,190.99 L1003.7,192.69 L1004.2,194.20" stroke="#ff0000" stroke-width="2.5" fill="none" stroke-linejoin="round"/>
</g>
<rect x="66.25" y="1.4" width="951.35" height="398.90000000000003" fill="none" stroke="#000" stroke-width="1.1"/>
<path d="M172.8,400.3V405.6M317.9,400.3V405.6M463.0,400.3V405.6M608.0,400.3V405.6M753.1,400.3V405.6M898.1,400.3V405.6M66.25,19.2H60.95M66.25,88.9H60.95M66.25,158.5H60.95M66.25,228.2H60.95M66.25,297.9H60.95M66.25,367.5H60.95" stroke="#000" stroke-width="1.1"/>
<g font-family="&quot;Liberation Sans&quot;, sans-serif" font-size="14" fill="#000"><text x="172.5" y="422.2" text-anchor="middle" textLength="32.4" lengthAdjust="spacingAndGlyphs">1000</text><text x="317.6" y="422.2" text-anchor="middle" textLength="32.4" lengthAdjust="spacingAndGlyphs">2000</text><text x="462.7" y="422.2" text-anchor="middle" textLength="32.4" lengthAdjust="spacingAndGlyphs">3000</text><text x="607.7" y="422.2" text-anchor="middle" textLength="32.4" lengthAdjust="spacingAndGlyphs">4000</text><text x="752.8" y="422.2" text-anchor="middle" textLength="32.4" lengthAdjust="spacingAndGlyphs">5000</text><text x="897.8" y="422.2" text-anchor="middle" textLength="32.4" lengthAdjust="spacingAndGlyphs">6000</text><text x="55" y="25.5" text-anchor="end">0.06</text><text x="55" y="95.2" text-anchor="end">0.04</text><text x="55" y="164.8" text-anchor="end">0.02</text><text x="55" y="234.5" text-anchor="end">0.00</text><text x="55" y="304.2" text-anchor="end">-0.02</text><text x="55" y="373.8" text-anchor="end">-0.04</text></g>
<text x="541.6" y="441.8" text-anchor="middle" textLength="146" lengthAdjust="spacingAndGlyphs" font-family="&quot;Liberation Sans&quot;, sans-serif" font-size="14">HJD-2450000 [days]</text>
<text transform="translate(12.4,202.7) rotate(-90)" text-anchor="middle" textLength="77" lengthAdjust="spacingAndGlyphs" font-family="&quot;Liberation Sans&quot;, sans-serif" font-size="14">O-C [days]</text>
</svg></body></html>
